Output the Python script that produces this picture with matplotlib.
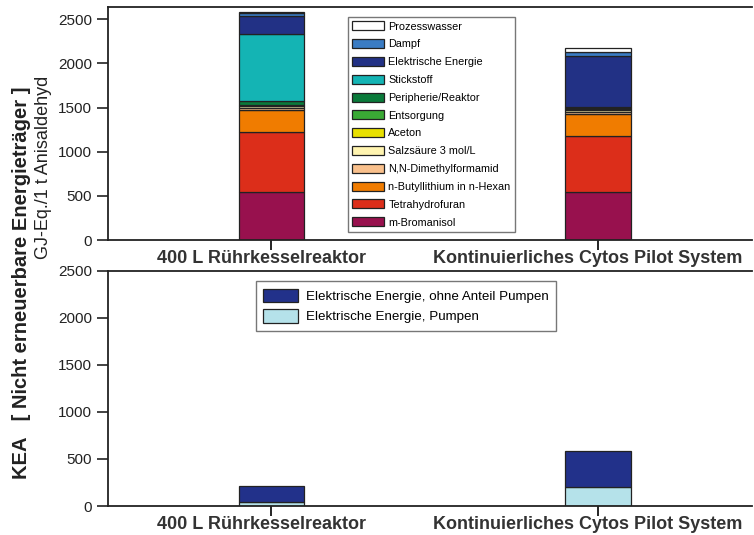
import matplotlib.pyplot as plt
import matplotlib.transforms as mtransforms
import numpy as np

plt.rcParams['font.family'] = ['Liberation Sans', 'DejaVu Sans']

systems = ['400 L Rührkesselreaktor', 'Kontinuierliches Cytos Pilot System']

# stacked components, bottom to top
components = ['m-Bromanisol', 'Tetrahydrofuran', 'n-Butyllithium in n-Hexan',
              'N,N-Dimethylformamid', 'Salzsäure 3 mol/L', 'Aceton', 'Entsorgung',
              'Peripherie/Reaktor', 'Stickstoff', 'Elektrische Energie', 'Dampf',
              'Prozesswasser']
batch_vals = [540, 685, 245, 25, 20, 5, 10, 40, 760, 210, 27, 12]
cytos_vals = [540, 640, 245, 30, 15, 5, 10, 15, 5, 585, 35, 45]
colors = ['#98114e', '#dc2e1a', '#f07c00', '#f9c08c', '#fff4b0', '#e8e000',
          '#3aaa35', '#0a7a3a', '#14b4b4', '#223185', '#3a7cc4', '#ffffff']

# electric energy split
elec_labels = ['Elektrische Energie, Pumpen', 'Elektrische Energie, ohne Anteil Pumpen']
pumpen = [40, 200]
ohne_pumpen = [170, 385]
elec_colors = ['#b5e2ea', '#22318a']

fig = plt.figure(figsize=(7.54, 5.35), dpi=100)
ax1 = fig.add_axes([0.143, 0.5514, 0.854, 0.4356])
ax2 = fig.add_axes([0.143, 0.0542, 0.854, 0.4393])

x = np.arange(len(systems))
w = 0.2

bottom = np.zeros(2)
handles = []
for i, name in enumerate(components):
    vals = np.array([batch_vals[i], cytos_vals[i]])
    b = ax1.bar(x, vals, w, bottom=bottom, color=colors[i], edgecolor='#222222',
                linewidth=0.9, label=name)
    handles.append(b)
    bottom += vals

ax1.legend(handles[::-1], components[::-1], loc='upper left',
           bbox_to_anchor=(0.3727, 0.957), borderaxespad=0, fontsize=7.8,
           frameon=True, fancybox=False, edgecolor='#555555', handlelength=2.9,
           handleheight=0.9, labelspacing=0.7, borderpad=0.4, handletextpad=0.45)

bottom = np.zeros(2)
hs = []
for vals, col, lab in zip([pumpen, ohne_pumpen], elec_colors, elec_labels):
    b = ax2.bar(x, vals, w, bottom=bottom, color=col, edgecolor='#222222',
                linewidth=0.9, label=lab)
    hs.append(b)
    bottom += np.array(vals)

ax2.legend(hs[::-1], elec_labels[::-1], loc='upper left',
           bbox_to_anchor=(0.22, 0.985), fontsize=9.6, frameon=True, fancybox=False,
           edgecolor='#555555', handlelength=2.6, handleheight=1.2,
           labelspacing=0.45, borderpad=0.55, handletextpad=0.6)

shift = mtransforms.ScaledTranslation(-10 / 100, -18 / 100, fig.dpi_scale_trans)
for ax, top in [(ax1, 2640), (ax2, 2500)]:
    ax.set_xlim(-0.5, 1.47)
    ax.set_ylim(0, top)
    ax.set_yticks([0, 500, 1000, 1500, 2000, 2500])
    ax.set_xticks(x)
    ax.set_xticklabels([])
    for xi, name in zip(x, systems):
        ax.text(xi, 0, name, transform=ax.get_xaxis_transform() + shift,
                ha='center', va='center', fontsize=13, fontweight='bold',
                color='#333333')
    ax.tick_params(axis='y', direction='out', length=8, width=1.2, labelsize=11,
                   colors='#222222')
    ax.tick_params(axis='x', direction='out', length=7, width=1.2, pad=2)
    ax.spines['right'].set_visible(False)
    for s in ['left', 'top', 'bottom']:
        ax.spines[s].set_linewidth(1.3)
        ax.spines[s].set_color('#222222')

fig.text(0.029, 0.471, 'KEA   [ Nicht erneuerbare Energieträger ]', rotation=90,
         ha='center', va='center', fontsize=14.5, fontweight='bold', color='#222222')
fig.text(0.058, 0.688, 'GJ-Eq./1 t Anisaldehyd', rotation=90,
         ha='center', va='center', fontsize=13, color='#222222')

fig.savefig('out.png', dpi=100)
